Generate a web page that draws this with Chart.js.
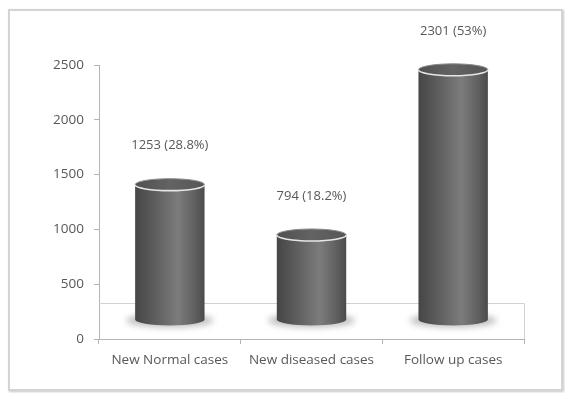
<!DOCTYPE html>
<html>
<head>
<meta charset="UTF-8">
<title>Cases</title>
<script src="https://cdn.jsdelivr.net/npm/chart.js"></script>
<style>
  html, body { margin: 0; padding: 0; background: #fff; }
  #wrap { position: relative; width: 565px; height: 393px; }
  #frame { position: absolute; left: 8px; top: 9px; width: 551px; height: 378px;
           border: 2px solid #d4d4d4; box-shadow: 1px 1px 2px #c8c8c8; }
  canvas { position: absolute; left: 0; top: 0; }
</style>
</head>
<body>
<div id="wrap">
  <div id="frame"></div>
  <canvas id="barChart" width="565" height="393"></canvas>
</div>

<script>
  const categories = ['New Normal cases', 'New diseased cases', 'Follow up cases'];
  const caseCounts = [1253, 794, 2301];
  const casePercents = ['28.8%', '18.2%', '53%'];
  const yTicks = [0, 500, 1000, 1500, 2000, 2500];

  const textColor = '#585858';
  const axisColor = '#b4b4b4';
  const depth = 19; // how far the bars sit behind the front axis plane

  // draws the columns as shaded cylinders, the back floor line and the value labels
  const cylinders = {
    id: 'cylinders',
    beforeDatasetsDraw(chart) {
      const ctx = chart.ctx;
      const area = chart.chartArea;
      const floorY = area.bottom - 36;
      ctx.save();
      ctx.strokeStyle = '#d2d2d2';
      ctx.lineWidth = 1;
      ctx.beginPath();
      ctx.moveTo(area.left, floorY + 0.5);
      ctx.lineTo(area.right + 0.5, floorY + 0.5);
      ctx.lineTo(area.right + 0.5, area.bottom);
      ctx.stroke();
      ctx.restore();
    },
    afterDatasetsDraw(chart) {
      const ctx = chart.ctx;
      const meta = chart.getDatasetMeta(0);
      meta.data.forEach((bar, i) => {
        const cx = bar.x;
        const rx = bar.width / 2;
        const ry = 6;
        const top = bar.y - depth + 2;
        const bottom = bar.base - depth;
        const left = cx - rx, right = cx + rx;

        ctx.save();
        // floor shadow
        ctx.filter = 'blur(3px)';
        ctx.fillStyle = 'rgba(150,150,150,0.6)';
        ctx.beginPath();
        ctx.ellipse(cx, bottom + 1, rx + 9, ry + 1, 0, 0, Math.PI * 2);
        ctx.fill();
        ctx.filter = 'none';

        // body
        const g = ctx.createLinearGradient(left, 0, right, 0);
        g.addColorStop(0, '#464646');
        g.addColorStop(0.2, '#565656');
        g.addColorStop(0.62, '#7c7c7c');
        g.addColorStop(0.85, '#616161');
        g.addColorStop(1, '#4b4b4b');
        ctx.fillStyle = g;
        ctx.beginPath();
        ctx.moveTo(left, top);
        ctx.lineTo(left, bottom);
        ctx.ellipse(cx, bottom, rx, ry, 0, Math.PI, 0, true);
        ctx.lineTo(right, top);
        ctx.closePath();
        ctx.fill();

        // top face
        const tg = ctx.createLinearGradient(left, 0, right, 0);
        tg.addColorStop(0, '#505050');
        tg.addColorStop(0.5, '#636363');
        tg.addColorStop(1, '#565656');
        ctx.fillStyle = tg;
        ctx.beginPath();
        ctx.ellipse(cx, top, rx, ry, 0, 0, Math.PI * 2);
        ctx.fill();
        ctx.strokeStyle = '#8a8a8a';
        ctx.lineWidth = 1;
        ctx.beginPath();
        ctx.ellipse(cx, top, rx, ry, 0, Math.PI, Math.PI * 2);
        ctx.stroke();
        ctx.strokeStyle = '#e6e6e6';
        ctx.lineWidth = 1.6;
        ctx.beginPath();
        ctx.ellipse(cx, top, rx, ry, 0, 0, Math.PI);
        ctx.stroke();

        // value label
        ctx.fillStyle = textColor;
        ctx.font = '13px "Open Sans"';
        ctx.textAlign = 'center';
        ctx.textBaseline = 'middle';
        ctx.fillText(caseCounts[i] + ' (' + casePercents[i] + ')', cx, top - 39);
        ctx.restore();
      });
    }
  };

  new Chart(document.getElementById('barChart'), {
    type: 'bar',
    data: {
      labels: categories,
      datasets: [{
        label: 'Cases',
        data: caseCounts,
        backgroundColor: 'rgba(0,0,0,0)',
        borderWidth: 0,
        barPercentage: 0.49,
        categoryPercentage: 1
      }]
    },
    options: {
      responsive: false,
      animation: false,
      events: [],
      layout: { padding: { left: 20, right: 41, top: 65, bottom: 18 } },
      plugins: {
        legend: { display: false },
        tooltip: { enabled: false }
      },
      scales: {
        x: {
          afterFit: s => { s.height = 36; },
          grid: { display: true, drawOnChartArea: false, tickLength: 5, color: axisColor },
          border: { display: true, color: axisColor },
          ticks: { color: textColor, font: { family: 'Open Sans', size: 13.5 }, padding: 8 }
        },
        y: {
          min: 0,
          max: 2500,
          afterFit: s => { s.width = 79; },
          afterBuildTicks: s => { s.ticks = yTicks.map(v => ({ value: v })); },
          grid: { display: true, drawOnChartArea: false, tickLength: 5, color: axisColor },
          border: { display: true, color: axisColor },
          ticks: {
            color: textColor,
            font: { family: 'Open Sans', size: 13.5 },
            padding: 10,
            callback: v => String(v)
          }
        }
      }
    },
    plugins: [cylinders]
  });
</script>
</body>
</html>
